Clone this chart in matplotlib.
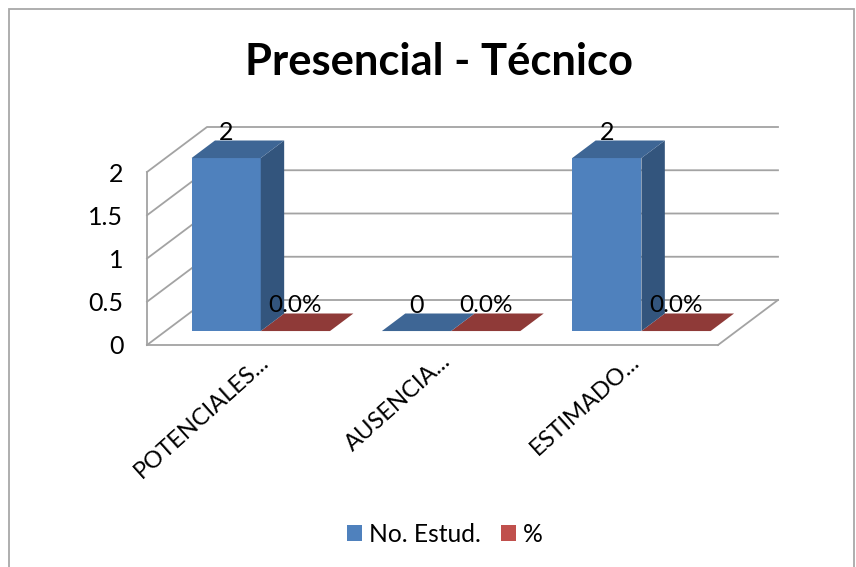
import matplotlib.pyplot as plt
from matplotlib.patches import Polygon, Rectangle
from matplotlib.transforms import ScaledTranslation

plt.rcParams['font.family'] = ['Lato', 'DejaVu Sans']

categories = ['POTENCIALES...', 'AUSENCIA...', 'ESTIMADO...']
no_estud = [2, 0, 2]
porcentaje = [0.0, 0.0, 0.0]
pct_labels = ['0.0%', '0.0%', '0.0%']
y_ticks = [0, 0.5, 1, 1.5, 2]
y_tick_labels = ['0', '0.5', '1', '1.5', '2']

W, H = 856, 567
fig = plt.figure(figsize=(W / 100, H / 100), dpi=100)
fig.patch.set_facecolor('white')

# front plane of the 3d box, in pixels of the picture
left, right, base, top = 147, 718, 345, 172
ax = fig.add_axes([left / W, 1 - base / H, (right - left) / W, (base - top) / H])
ax.set_xlim(0, 3)
ax.set_ylim(0, 2)
ax.patch.set_alpha(0)

# depth of the box, in data units
depth_x = 60 / (right - left) * 3
depth_y = 45 / (base - top) * 2


def proj(x, y, z):
    return x + z * depth_x, y + z * depth_y


grid_col = '#A3A3A3'
for t in y_ticks:
    a = proj(0, t, 0)
    b = proj(0, t, 1)
    c = proj(3, t, 1)
    ax.plot([a[0], b[0], c[0]], [a[1], b[1], c[1]], color=grid_col, lw=1.3, clip_on=False, zorder=1)
f = proj(3, 0, 0)
g = proj(3, 0, 1)
ax.plot([f[0], g[0]], [f[1], g[1]], color=grid_col, lw=1.3, clip_on=False, zorder=1)

gap = 0.75
bar_w = 1 / (2 + gap)
z0, z1 = 0.31, 0.70


def draw_box(x0, val, front, side, cap, z):
    x1 = x0 + bar_w
    if val > 0:
        ax.add_patch(Polygon([proj(x0, 0, z0), proj(x1, 0, z0), proj(x1, val, z0), proj(x0, val, z0)],
                             fc=front, ec='none', clip_on=False, zorder=z))
        ax.add_patch(Polygon([proj(x1, 0, z0), proj(x1, 0, z1), proj(x1, val, z1), proj(x1, val, z0)],
                             fc=side, ec='none', clip_on=False, zorder=z))
    ax.add_patch(Polygon([proj(x0, val, z0), proj(x1, val, z0), proj(x1, val, z1), proj(x0, val, z1)],
                         fc=cap, ec='none', clip_on=False, zorder=z))


label_off = ScaledTranslation(0, 26 / 100, fig.dpi_scale_trans)
for i in range(len(categories)):
    x_blue = i + gap * bar_w / 2
    x_red = x_blue + bar_w
    draw_box(x_red, porcentaje[i], '#C0504D', '#7F3533', '#8F3A38', 3)
    draw_box(x_blue, no_estud[i], '#4F81BD', '#33557D', '#3E6695', 4)
    px, py = proj(x_blue + bar_w / 2, no_estud[i], z0)
    ax.text(px, py, str(no_estud[i]), fontsize=18, ha='center', va='center', color='black',
            transform=ax.transData + label_off, zorder=6)
    px, py = proj(x_red + bar_w / 2, porcentaje[i], z0)
    ax.text(px, py, pct_labels[i], fontsize=17.5, ha='center', va='center', color='black',
            transform=ax.transData + label_off, zorder=6)

for s in ['top', 'right']:
    ax.spines[s].set_visible(False)
for s in ['left', 'bottom']:
    ax.spines[s].set_color(grid_col)
    ax.spines[s].set_linewidth(1.3)

ax.set_yticks(y_ticks)
ax.set_yticklabels(y_tick_labels, fontsize=18)
ax.tick_params(axis='y', length=0, pad=17)
ax.set_xticks([i + 0.5 for i in range(len(categories))])
ax.set_xticklabels(categories, fontsize=17, rotation=42, ha='right', rotation_mode='anchor')
ax.tick_params(axis='x', length=0, pad=4)
shifts = [17, 8, 7]
for lab, s in zip(ax.get_xticklabels(), shifts):
    lab.set_transform(lab.get_transform() + ScaledTranslation(s / 100, 0, fig.dpi_scale_trans))

fig.text(439 / W, 1 - 62 / H, 'Presencial - Técnico', fontsize=31.3, fontweight='bold',
         ha='center', va='center', color='black')

h1 = Rectangle((0, 0), 1, 1, fc='#4F81BD', ec='none')
h2 = Rectangle((0, 0), 1, 1, fc='#C0504D', ec='none')
fig.legend([h1, h2], ['No. Estud.', '%'], loc='center', bbox_to_anchor=(445 / W, 1 - 534 / H),
           ncol=2, frameon=False, fontsize=17.7, handlelength=0.61, handleheight=0.61,
           handletextpad=0.28, columnspacing=0.8)

# chart frame
fig.add_artist(Rectangle((9 / W, -0.01), (854 - 9) / W, 1 - 9 / H + 0.01, transform=fig.transFigure,
                         fc='none', ec='#A8A8A8', lw=1.3))

fig.savefig('out.png', dpi=100)
